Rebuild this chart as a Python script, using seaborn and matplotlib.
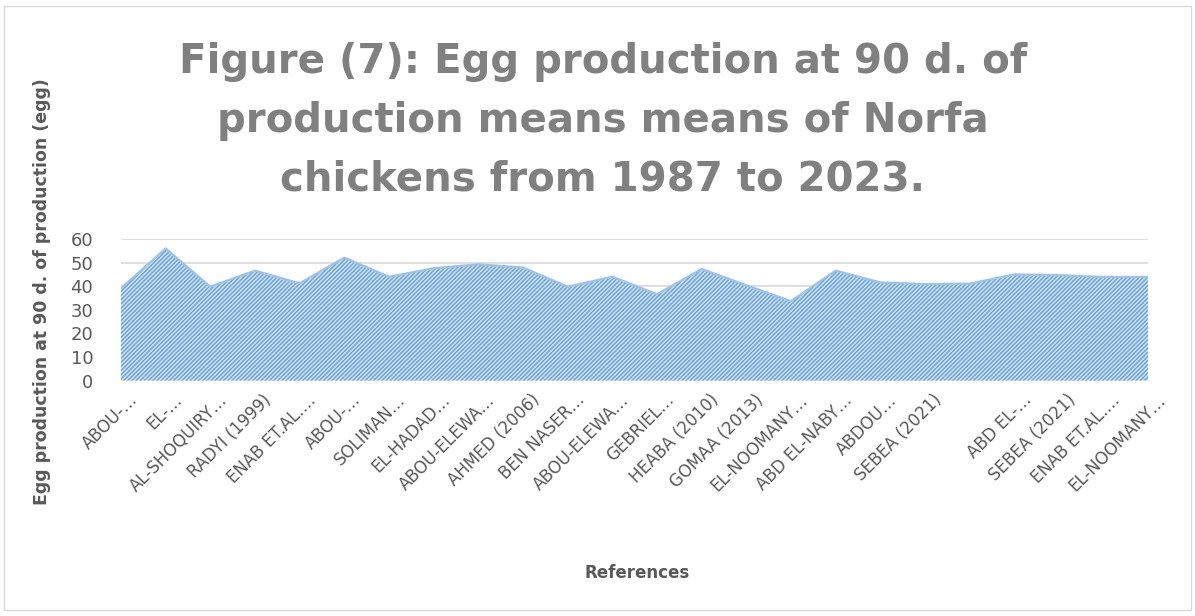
import matplotlib
matplotlib.use("Agg")
import matplotlib.pyplot as plt
import matplotlib.transforms as mtransforms
from matplotlib.patches import Rectangle
import seaborn as sns
import numpy as np
import pandas as pd

# ---- data ----
categories = [
    "ABOU-…", "EL-…", "AL-SHOQUIRY…", "RADYI (1999)", "ENAB ET.AL.…",
    "ABOU-…", "SOLIMAN…", "EL-HADAD…", "ABOU-ELEWA…", "AHMED (2006)",
    "BEN NASER…", "ABOU-ELEWA…", "GEBRIEL…", "HEABA (2010)", "GOMAA (2013)",
    "EL-NOOMANY…", "ABD EL-NABY…", "ABDOU…", "SEBEA (2021)", "",
    "ABD EL-…", "SEBEA (2021)", "ENAB ET.AL.…", "EL-NOOMANY…",
]
egg_production = [
    39.1, 56.0, 39.8, 46.6, 41.2, 52.1, 44.0, 47.6, 49.3, 47.9,
    39.8, 44.0, 36.6, 47.3, 40.4, 33.7, 46.6, 41.6, 40.9, 41.1,
    45.0, 44.7, 43.9, 43.9,
]
y_ticks = [0, 10, 20, 30, 40, 50, 60]

title_text = ("Figure (7): Egg production at 90 d. of\n"
              "production means means of Norfa\n"
              "chickens from 1987 to 2023.")
y_label = "Egg production at 90 d. of production (egg)"
x_label = "References"

df = pd.DataFrame({"pos": np.arange(len(egg_production)), "value": egg_production})

sns.set_theme(style="white")
plt.rcParams["font.family"] = ["DejaVu Sans"]
plt.rcParams["hatch.linewidth"] = 1.1

W, H = 1195, 616
fig = plt.figure(figsize=(W / 100, H / 100), dpi=100)
fig.patch.set_facecolor("white")

# outer border
fig.patches.append(Rectangle((4 / W, 6 / H), (W - 8) / W, (H - 12) / H,
                             transform=fig.transFigure, fill=False,
                             edgecolor="#d9d9d9", linewidth=1.0))

left, right = 121 / W, 1148.4 / W
bottom, top = 1 - 380.6 / H, 1 - 239 / H
ax = fig.add_axes([left, bottom, right - left, top - bottom])

# gridlines
for t in y_ticks[1:]:
    ax.axhline(t, color="#d9d9d9", linewidth=1.2, zorder=0)

# area
ax.fill_between(df["pos"], 0, df["value"], facecolor="#d6e6f6",
                edgecolor="#6ba3dd", hatch="////////", linewidth=0, zorder=2)
sns.lineplot(data=df, x="pos", y="value", ax=ax, color="#9fc2e8",
             linewidth=1.6, zorder=3)

ax.set_xlim(0, len(egg_production) - 1)
ax.set_ylim(0, 60)
ax.set_yticks(y_ticks)
ax.set_yticklabels([str(t) for t in y_ticks])
ax.set_xticks(df["pos"])
ax.set_xticklabels(categories, rotation=45, ha="right", va="center",
                   rotation_mode="anchor")
ax.tick_params(axis="y", length=0, pad=20, labelsize=13, labelcolor="#595959")
ax.tick_params(axis="x", length=0, pad=12, labelsize=12, labelcolor="#595959")
offset = mtransforms.ScaledTranslation(14 / 100, 0, fig.dpi_scale_trans)
for lab in ax.get_xticklabels():
    lab.set_transform(lab.get_transform() + offset)
for s in ax.spines.values():
    s.set_visible(False)
ax.set_xlabel("")
ax.set_ylabel("")

fig.text(603 / W, 1 - 121 / H, title_text, ha="center", va="center",
         fontsize=29, fontweight="bold", color="#808080", linespacing=1.6)
fig.text(42 / W, 1 - 292 / H, y_label, rotation=90, ha="center", va="center",
         fontsize=12.5, fontweight="bold", color="#595959")
fig.text(637 / W, 1 - 573 / H, x_label, ha="center", va="center",
         fontsize=12, fontweight="bold", color="#595959")

fig.savefig("out.png", dpi=100)
